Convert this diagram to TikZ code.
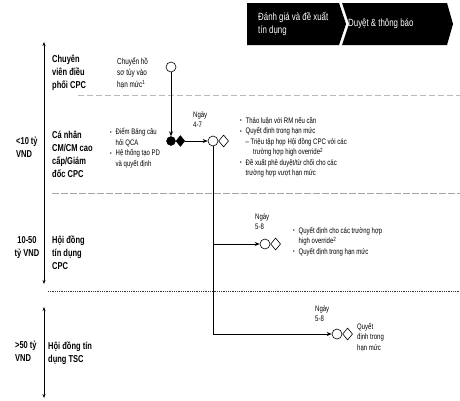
\documentclass[tikz,border=0pt]{standalone}
\usepackage{fontspec}
\setmainfont{Liberation Sans}[FakeStretch=0.75]
\usetikzlibrary{arrows.meta, positioning, shapes.geometric}

\newcommand{\bl}{\makebox[5.5pt][l]{\raisebox{0.6pt}{\fontsize{6}{6}\selectfont\textbullet}}}
\newcommand{\ind}{\hspace*{5.5pt}}

\begin{document}
\begin{tikzpicture}[
      x=1pt, y=-1pt,
      font=\fontsize{8}{10.5}\selectfont,
      lbl/.style={anchor=north west, inner sep=0pt, align=left,
                  font=\fontsize{10}{13}\selectfont\bfseries},
      txt/.style={anchor=north west, inner sep=0pt, align=left},
      note/.style={anchor=north west, inner sep=0pt, align=left,
                   font=\fontsize{8.5}{11.5}\selectfont},
      hdr/.style={anchor=west, inner sep=0pt, align=left, text=white,
                  font=\fontsize{10.5}{13}\selectfont},
      ocirc/.style={draw, circle, minimum size=10pt, inner sep=0pt, line width=0.6pt},
      odia/.style={draw, diamond, minimum width=10pt, minimum height=12pt,
                   inner sep=0pt, line width=0.6pt},
      bcirc/.style={draw, fill=black, circle, minimum size=9pt, inner sep=0pt},
      bdia/.style={draw, fill=black, diamond, minimum width=9pt, minimum height=11pt,
                   inner sep=0pt},
      arr/.style={-{Stealth[length=5pt, width=4pt]}, line width=0.7pt},
      dbl/.style={{Stealth[length=4pt, width=3pt]}-{Stealth[length=4pt, width=3pt]},
                  line width=0.6pt},
      sepa/.style={draw=gray!55, dash pattern=on 6pt off 3pt, line width=0.6pt},
      sepb/.style={draw=gray!70, dash pattern=on 7pt off 2pt, line width=0.6pt},
      sepc/.style={draw=black!80, dash pattern=on 1pt off 0.8pt, line width=0.8pt},
  ]
  \useasboundingbox (0,0) rectangle (460,400);

  %% Header chevrons
  \fill (247,3) -- (339,3) -- (346,24) -- (339,45) -- (247,45) -- cycle;
  \fill (342,3) -- (447,3) -- (453,24) -- (447,45) -- (342,45) -- (349,24) -- cycle;
  \node[hdr] (hdr1) at (258,24) {Đánh giá và đề xuất\\tín dụng};
  \node[hdr] (hdr2) at (348,24) {Duyệt \& thông báo};

  %% Amount scale on the left
  \coordinate (t1) at (44,42);
  \coordinate (t2) at (44,284);
  \coordinate (t3) at (44,307);
  \coordinate (t4) at (44,398);
  \draw[dbl] (t1) -- (t2);
  \draw[dbl] (t3) -- (t4);

  \node[lbl] (amt1) at (16,137) {<10 tỷ\\VND};
  \node[lbl, align=center, anchor=north] (amt2) at (27,236) {10-50\\tỷ VND};
  \node[lbl] (amt3) at (15,341) {>50 tỷ\\VND};

  %% Row labels
  \node[lbl] (role1) at (52,55)  {Chuyên\\viên điều\\phối CPC};
  \node[lbl] (role2) at (52,131) {Cá nhân\\CM/CM cao\\cấp/Giám\\đốc CPC};
  \node[lbl] (role3) at (52,236) {Hội đồng\\tín dụng\\CPC};
  \node[lbl] (role4) at (48,342) {Hội đồng tín\\dụng TSC};

  %% Row separators
  \coordinate (s1a) at (78,95);  \coordinate (s1b) at (460,95);
  \coordinate (s2a) at (52,193); \coordinate (s2b) at (460,193);
  \coordinate (s3a) at (48,291); \coordinate (s3b) at (460,291);
  \draw[sepa] (s1a) -- (s1b);
  \draw[sepb] (s2a) -- (s2b);
  \draw[sepc] (s3a) -- (s3b);

  %% Flow symbols
  \node[ocirc] (start) at (171,67) {};
  \node[bcirc] (chk) at (171,141) {};
  \node[bdia, right=0pt of chk] (chkd) {};
  \node[ocirc] (c1) at (213,141) {};
  \node[odia, right=0pt of c1] (d1) {};
  \node[ocirc] (c2) at (265,244) {};
  \node[odia, right=0pt of c2] (d2) {};
  \node[ocirc] (c3) at (337,334) {};
  \node[odia, right=0pt of c3] (d3) {};

  %% Texts
  \node[note] (move) at (117,57) {Chuyển hồ\\sơ tùy vào\\hạn mức\textsuperscript{1}};
  \node[txt] (qca) at (110,128) {\bl Điểm Bảng câu\\\ind hỏi QCA\\\bl Hệ thống tạo PD\\\ind và quyết định};
  \node[txt] (day1) at (193,111) {Ngày\\4-7};
  \node[txt] (task1) at (240,117) {\bl Thảo luận với RM nếu cần\\
      \bl Quyết định trong hạn mức\\
      \ind– Triệu tập họp Hội đồng CPC với các\\
      \hspace*{13pt}trường hợp high override\textsuperscript{2}\\
      \bl Đề xuất phê duyệt/từ chối cho các\\
      \ind trường hợp vượt hạn mức};
  \node[txt] (day2) at (255,213) {Ngày\\5-8};
  \node[txt] (task2) at (293,227) {\bl Quyết định cho các trường hợp\\
      \ind high override\textsuperscript{2}\\
      \bl Quyết định trong hạn mức};
  \node[txt] (day3) at (315,305) {Ngày\\5-8};
  \node[txt] (task3) at (357,323) {Quyết\\định trong\\hạn mức};

  %% Arrows
  \draw[arr] (start) -- (chk);
  \draw[arr] (chkd) -- (c1);
  \draw[arr] (c1) |- (c2);
  \draw[arr] (c1) |- (c3);

\end{tikzpicture}
\end{document}
